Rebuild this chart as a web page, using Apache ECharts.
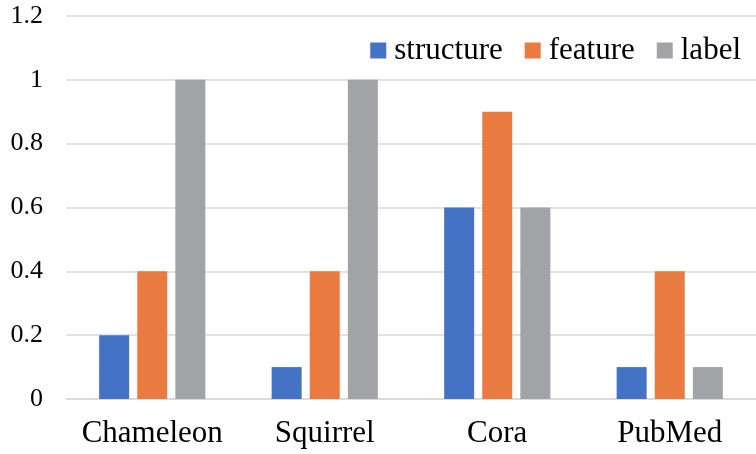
<!DOCTYPE html>
<html>
<head>
<meta charset="utf-8">
<script src="https://cdn.jsdelivr.net/npm/echarts@6/dist/echarts.min.js"></script>
<style>
  html, body { margin: 0; padding: 0; background: #fff; }
  #chart { width: 756px; height: 454px; }
</style>
</head>
<body>
<div id="chart"></div>
<script>
// Datasets along the x axis
const categories = ['Chameleon', 'Squirrel', 'Cora', 'PubMed'];
// Scores for each information source
const structureValues = [0.2, 0.1, 0.6, 0.1];
const featureValues = [0.4, 0.4, 0.9, 0.4];
const labelValues = [1, 1, 0.6, 0.1];
// Y axis range
const yMin = 0;
const yMax = 1.2;
const yStep = 0.2;

const serif = '"Liberation Serif", "Times New Roman", serif';

const chart = echarts.init(document.getElementById('chart'), null, { renderer: 'canvas' });

function barSeries(name, data, color) {
  return {
    name: name,
    type: 'bar',
    data: data,
    barWidth: 30,
    barGap: '27%',
    itemStyle: { color: color },
    emphasis: { disabled: true }
  };
}

chart.setOption({
  animation: false,
  grid: { left: 66, top: 16, width: 698, height: 383, containLabel: false },
  legend: {
    right: 10,
    top: 30,
    itemWidth: 16,
    itemHeight: 16,
    itemGap: 22,
    icon: 'rect',
    textStyle: { fontFamily: serif, fontSize: 31, color: '#000', padding: [0, 0, 0, 3] },
    data: ['structure', 'feature', 'label']
  },
  xAxis: {
    type: 'category',
    data: categories,
    axisLine: { show: true, lineStyle: { color: '#D9D9D9', width: 1.5 } },
    axisTick: { show: false },
    axisLabel: {
      interval: 0,
      hideOverlap: false,
      fontFamily: serif,
      fontSize: 31,
      color: '#000',
      margin: 19
    }
  },
  yAxis: {
    type: 'value',
    min: yMin,
    max: yMax,
    interval: yStep,
    axisLine: { show: false },
    axisTick: { show: false },
    splitLine: { lineStyle: { color: '#D9D9D9', width: 1.5 } },
    axisLabel: {
      fontFamily: serif,
      fontSize: 26,
      color: '#000',
      margin: 23,
      formatter: v => String(+v.toFixed(1))
    }
  },
  series: [
    barSeries('structure', structureValues, '#4472C4'),
    barSeries('feature', featureValues, '#E97B40'),
    barSeries('label', labelValues, '#A2A3A7')
  ]
});
</script>
</body>
</html>
